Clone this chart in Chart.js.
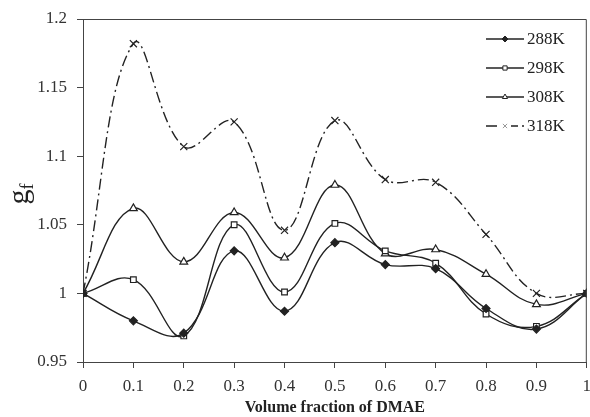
<!DOCTYPE html>
<html>
<head>
<meta charset="utf-8">
<script src="https://cdn.jsdelivr.net/npm/chart.js@4/dist/chart.umd.min.js"></script>
<style>
  html, body { margin: 0; padding: 0; background: #fff; }
  #wrap { width: 590px; height: 417px; overflow: hidden; }
</style>
</head>
<body>
<div id="wrap"><canvas id="gfChart" width="593" height="417"></canvas></div>
<script>
// volume fraction of DMAE
const fractions = [0, 0.1, 0.2, 0.3, 0.4, 0.5, 0.6, 0.7, 0.8, 0.9, 1];

// g_f values
const g288 = [1, 0.980, 0.971, 1.031, 0.987, 1.037, 1.021, 1.018, 0.989, 0.974, 1];
const g298 = [1, 1.010, 0.969, 1.050, 1.001, 1.051, 1.031, 1.022, 0.985, 0.976, 1];
const g308 = [1, 1.062, 1.023, 1.059, 1.026, 1.079, 1.029, 1.032, 1.014, 0.992, 1];
const g318 = [1, 1.182, 1.107, 1.125, 1.046, 1.126, 1.083, 1.081, 1.043, 1.000, 1];

const seriesLabels = ['288K', '298K', '308K', '318K'];
const yTicks = [0.95, 1, 1.05, 1.1, 1.15, 1.2];

const SERIF = '"Liberation Serif", "DejaVu Serif", serif';
const INK = '#222';

function toPoints(vals) {
    return fractions.map((x, i) => ({ x: x, y: vals[i] }));
}

const datasets = [
    { label: seriesLabels[0], data: toPoints(g288), pointStyle: 'rectRot', pointRadius: 4,
      pointBackgroundColor: INK, borderDash: [] },
    { label: seriesLabels[1], data: toPoints(g298), pointStyle: 'rect', pointRadius: 4,
      pointBackgroundColor: '#fff', borderDash: [] },
    { label: seriesLabels[2], data: toPoints(g308), pointStyle: 'triangle', pointRadius: 4.5,
      pointBackgroundColor: '#fff', borderDash: [] },
    { label: seriesLabels[3], data: toPoints(g318), pointStyle: 'crossRot', pointRadius: 5,
      pointBackgroundColor: '#fff', borderDash: [11, 4, 2, 4] }
].map(d => Object.assign({
    borderColor: INK,
    pointBorderColor: INK,
    borderWidth: 1.4,
    pointBorderWidth: 1.2,
    tension: 0.4,
    fill: false
}, d));

// frame on top/right, y-axis title with subscript, legend inside the plot
const decor = {
    id: 'decor',
    afterDraw(chart) {
        const { ctx, chartArea: a } = chart;
        ctx.save();
        ctx.strokeStyle = '#444';
        ctx.lineWidth = 1;
        ctx.beginPath();
        ctx.moveTo(a.left, a.top + 0.5);
        ctx.lineTo(a.right - 0.5, a.top + 0.5);
        ctx.lineTo(a.right - 0.5, a.bottom);
        ctx.stroke();

        // y title: g_f
        ctx.translate(28, (a.top + a.bottom) / 2);
        ctx.rotate(-Math.PI / 2);
        ctx.fillStyle = INK;
        ctx.textBaseline = 'alphabetic';
        ctx.font = '30px ' + SERIF;
        ctx.textAlign = 'left';
        const gw = ctx.measureText('g').width;
        ctx.fillText('g', -14, 0);
        ctx.font = '18px ' + SERIF;
        ctx.fillText('f', -14 + gw, 5);
        ctx.restore();

        // legend
        const x0 = 486, x1 = 524;
        chart.data.datasets.forEach((ds, i) => {
            const y = 39 + i * 29;
            ctx.save();
            ctx.strokeStyle = INK;
            ctx.lineWidth = 1.4;
            ctx.setLineDash(ds.borderDash || []);
            ctx.beginPath();
            ctx.moveTo(x0, y);
            ctx.lineTo(x1, y);
            ctx.stroke();
            ctx.setLineDash([]);
            ctx.fillStyle = '#fff';
            if (ds.pointStyle === 'crossRot') ctx.fillRect(498, y - 4, 13, 8);
            ctx.fillStyle = ds.pointBackgroundColor;
            ctx.strokeStyle = ds.pointStyle === 'crossRot' ? '#999' : INK;
            ctx.lineWidth = 1;
            Chart.helpers.drawPoint(ctx, {
                pointStyle: ds.pointStyle, radius: 3, borderWidth: 1, rotation: 0
            }, (x0 + x1) / 2, y);
            ctx.fillStyle = INK;
            ctx.font = '17px ' + SERIF;
            ctx.textAlign = 'left';
            ctx.textBaseline = 'middle';
            ctx.fillText(ds.label, x1 + 3, y + 1);
            ctx.restore();
        });
    }
};

new Chart(document.getElementById('gfChart'), {
    type: 'line',
    data: { datasets: datasets },
    options: {
        responsive: false,
        animation: false,
        layout: { padding: { left: 0, right: -3, top: 19, bottom: 0 } },
        plugins: {
            legend: { display: false },
            tooltip: { enabled: false }
        },
        scales: {
            x: {
                type: 'linear',
                min: 0,
                max: 1,
                ticks: {
                    stepSize: 0.1,
                    color: '#333',
                    font: { family: SERIF, size: 17 },
                    padding: 8,
                    callback: v => String(+v.toFixed(1))
                },
                grid: { display: true, drawOnChartArea: false, drawTicks: true, tickLength: 6, tickColor: '#444' },
                border: { color: '#444', width: 1 },
                title: {
                    display: true,
                    text: 'Volume fraction of DMAE',
                    color: INK,
                    font: { family: SERIF, size: 16, weight: 'bold' },
                    padding: { top: 2, bottom: 0 }
                },
                afterFit: s => { s.height = 55; s.paddingRight = 0; s.paddingLeft = 0; }
            },
            y: {
                min: 0.95,
                max: 1.2,
                afterBuildTicks: s => { s.ticks = yTicks.map(v => ({ value: v })); },
                ticks: {
                    color: '#333',
                    font: { family: SERIF, size: 17 },
                    padding: 10,
                    callback: v => String(+v.toFixed(2))
                },
                grid: { display: true, drawOnChartArea: false, drawTicks: true, tickLength: 6, tickColor: '#444' },
                border: { color: '#444', width: 1 },
                afterFit: s => { s.width = 83; s.paddingTop = 0; s.paddingBottom = 0; }
            }
        }
    },
    plugins: [decor]
});
</script>
</body>
</html>
